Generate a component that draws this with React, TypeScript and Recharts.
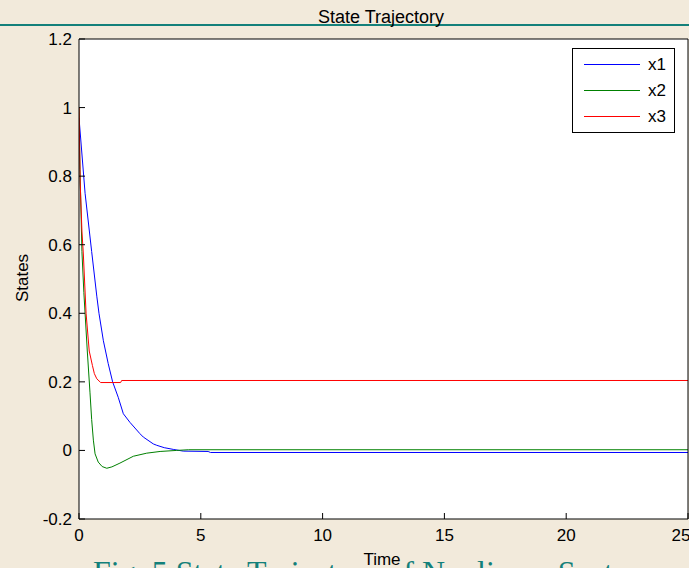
import { LineChart, Line, XAxis, YAxis, CartesianGrid, Legend } from 'recharts';

// time samples and values
const x1Time = [0, 0.25, 0.52, 0.73, 0.82, 1.0, 1.2, 1.38, 1.61, 1.82, 2.09, 2.5, 2.64, 3.05, 3.19, 3.5, 3.87, 4.28, 5.3, 5.4, 25];
const x1Values = [0.97, 0.75, 0.58, 0.45, 0.4, 0.32, 0.253, 0.2, 0.155, 0.107, 0.082, 0.049, 0.039, 0.019, 0.015, 0.008, 0.003, -0.002, -0.003, -0.006, -0.006];

const x2Time = [0, 0.04, 0.12, 0.2, 0.34, 0.45, 0.52, 0.59, 0.66, 0.79, 0.95, 1.14, 1.35, 1.68, 2.23, 2.78, 3.33, 4.0, 4.5, 25];
const x2Values = [1, 0.82, 0.58, 0.46, 0.29, 0.17, 0.09, 0.03, -0.01, -0.034, -0.047, -0.052, -0.048, -0.037, -0.017, -0.008, -0.003, 0, 0.002, 0.002];

const x3Time = [0, 0.05, 0.12, 0.18, 0.29, 0.42, 0.55, 0.63, 0.73, 0.89, 1.71, 1.75, 25];
const x3Values = [1, 0.78, 0.64, 0.57, 0.4, 0.29, 0.248, 0.224, 0.209, 0.198, 0.198, 0.204, 0.204];

const xTicks = [0, 5, 10, 15, 20, 25];
const yTicks = [-0.2, 0, 0.2, 0.4, 0.6, 0.8, 1, 1.2];

const toPoints = (t: number[], v: number[]) => t.map((time, i) => ({ time, value: v[i] }));

const FONT = '"Liberation Sans", Arial, Helvetica, sans-serif';
const BG = '#f2eadb';
const TEAL = '#13807a';

function XTick({ x, y, payload }: any) {
  return (
    <text x={x} y={y + 22} textAnchor="middle" fontSize={17} fontFamily={FONT} fill="#000">
      {payload.value}
    </text>
  );
}

function YTick({ x, y, payload }: any) {
  return (
    <text x={x} y={y + 6} textAnchor="end" fontSize={17} fontFamily={FONT} fill="#000">
      {String(Math.round(payload.value * 10) / 10)}
    </text>
  );
}

function LegendBox({ payload }: any) {
  return (
    <svg width={103} height={85} style={{ display: 'block' }}>
      <rect x={0.5} y={0.5} width={102} height={84} fill="#fff" stroke="#000" />
      {(payload || []).map((p: any, i: number) => (
        <g key={p.value}>
          <line x1={12} x2={68} y1={16.5 + i * 26} y2={16.5 + i * 26} stroke={p.color} />
          <text x={76} y={22 + i * 26} fontSize={17} fontFamily={FONT} fill="#000">
            {p.value}
          </text>
        </g>
      ))}
    </svg>
  );
}

export default function App() {
  return (
    <div style={{ position: 'absolute', left: 0, top: 0, width: 689, height: 568, background: BG, overflow: 'hidden' }}>
      <LineChart width={689} height={568} margin={{ top: 38, right: 0, bottom: 48, left: 78 }}>
        <CartesianGrid fill="#fff" horizontal={false} vertical={false} />
        <XAxis
          dataKey="time"
          type="number"
          domain={[0, 25]}
          ticks={xTicks}
          allowDataOverflow
          height={1}
          stroke="#000"
          tickSize={-6}
          tickMargin={6}
          tick={<XTick />}
        />
        <XAxis
          xAxisId="top"
          orientation="top"
          type="number"
          domain={[0, 25]}
          ticks={xTicks}
          allowDataOverflow
          height={1}
          stroke="#000"
          tickSize={-6}
          tick={false}
        />
        <YAxis
          type="number"
          domain={[-0.2, 1.2]}
          ticks={yTicks}
          allowDataOverflow
          width={1}
          stroke="#000"
          tickSize={-6}
          tickMargin={13}
          tick={<YTick />}
        />
        <YAxis
          yAxisId="right"
          orientation="right"
          type="number"
          domain={[-0.2, 1.2]}
          ticks={yTicks}
          allowDataOverflow
          width={1}
          stroke="#000"
          tickSize={-6}
          tick={false}
        />
        <Legend
          layout="vertical"
          align="center"
          verticalAlign="middle"
          content={<LegendBox />}
          wrapperStyle={{ left: 572, top: 48, width: 103, height: 85 }}
        />
        <Line data={toPoints(x1Time, x1Values)} dataKey="value" name="x1" type="linear" stroke="#0000ff" strokeWidth={1} dot={false} isAnimationActive={false} />
        <Line data={toPoints(x2Time, x2Values)} dataKey="value" name="x2" type="linear" stroke="#008000" strokeWidth={1} dot={false} isAnimationActive={false} />
        <Line data={toPoints(x3Time, x3Values)} dataKey="value" name="x3" type="linear" stroke="#ff0000" strokeWidth={1} dot={false} isAnimationActive={false} />
      </LineChart>
      <svg width={689} height={568} style={{ position: 'absolute', left: 0, top: 0, pointerEvents: 'none' }}>
        <rect x={0} y={24} width={689} height={2} fill={TEAL} />
        <text x={381} y={22.5} textAnchor="middle" fontSize={18} fontFamily={FONT} fill="#000">State Trajectory</text>
        <text transform="translate(28,278) rotate(-90)" textAnchor="middle" fontSize={17} fontFamily={FONT} fill="#000">States</text>
        <text x={382} y={565} textAnchor="middle" fontSize={17} fontFamily={FONT} fill="#000">Time</text>
        <text x={93} y={583} fontSize={32} fontFamily={'"Liberation Serif", "Times New Roman", serif'} fill={TEAL}>
          Fig. 5 State Trajectory of Nonlinear System
        </text>
      </svg>
    </div>
  );
}
